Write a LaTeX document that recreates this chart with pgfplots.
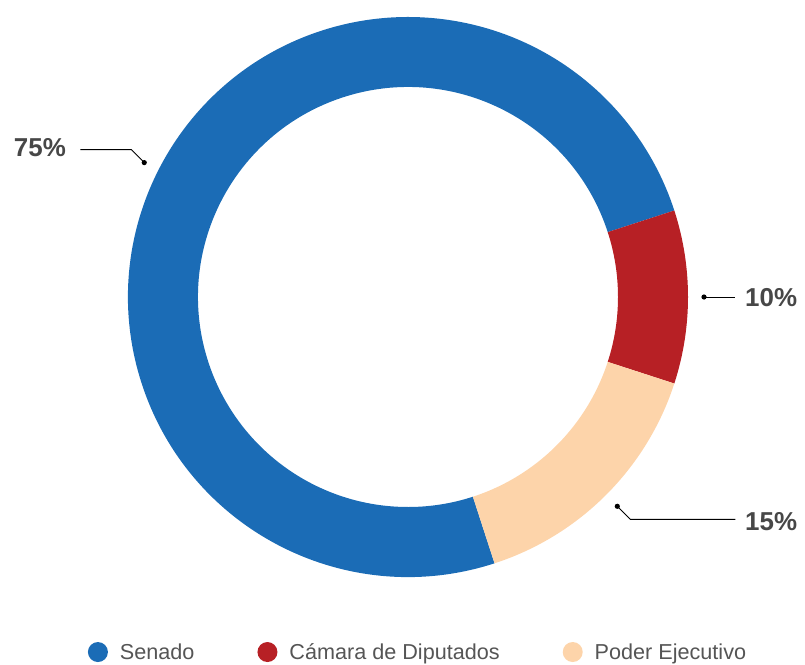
\documentclass[border=0pt]{standalone}
\usepackage{pgfplots}
\pgfplotsset{compat=1.18}
\usepackage{pgfplotstable}
\usepackage{fontspec}
\setmainfont{Liberation Sans}

\definecolor{sen}{HTML}{1B6CB6}
\definecolor{cam}{HTML}{B72025}
\definecolor{pod}{HTML}{FDD4AA}
\definecolor{lbl}{HTML}{474747}
\definecolor{leg}{HTML}{555555}

% shares in percent: Senado, Camara de Diputados, Poder Ejecutivo
\pgfplotstableread{
share
75
10
15
}\shares
\pgfplotstablegetelem{0}{share}\of\shares \let\sSen\pgfplotsretval
\pgfplotstablegetelem{1}{share}\of\shares \let\sCam\pgfplotsretval
\pgfplotstablegetelem{2}{share}\of\shares \let\sPod\pgfplotsretval

% wedges run clockwise from 288 deg
\pgfmathsetmacro\aA{288}
\pgfmathsetmacro\aB{\aA-3.6*\sSen}
\pgfmathsetmacro\aC{\aB-3.6*\sCam}
\pgfmathsetmacro\aD{\aC-3.6*\sPod}
\pgfmathsetmacro\mA{(\aA+\aB)/2}
\pgfmathsetmacro\mB{(\aB+\aC)/2}
\pgfmathsetmacro\mC{(\aC+\aD)/2}

\newcommand\ring[3]{%
  \fill[#3] ([shift={(#1:280bp)}]axis cs:408,297)
    arc[start angle=#1, end angle=#2, radius=280bp]
    -- ([shift={(#2:210bp)}]axis cs:408,297)
    arc[start angle=#2, end angle=#1, radius=210bp] -- cycle;}

\begin{document}
\begin{tikzpicture}
\begin{axis}[
  x=1bp, y=1bp, xmin=0, xmax=805, ymin=0, ymax=665,
  y dir=reverse, hide axis, clip=false,
  legend columns=3,
  legend cell align=left,
  legend image code/.code={\fill[#1, draw=none] (0bp,0bp) circle (10bp);},
  legend style={draw=none, fill=none, at={(0.5193,0.0195)}, anchor=center,
    font=\fontsize{21.7}{26}\selectfont\color{leg},
    /tikz/every odd column/.append style={column sep=10bp},
    /tikz/every even column/.append style={column sep=61bp}},
]
\addlegendimage{fill=sen}\addlegendentry{Senado}
\addlegendimage{fill=cam}\addlegendentry{Cámara de Diputados}
\addlegendimage{fill=pod}\addlegendentry{Poder Ejecutivo}

\ring{\aA}{\aB}{sen}
\ring{\aB}{\aC}{cam}
\ring{\aC}{\aD}{pod}

% leader lines
\draw[black, line width=0.9bp] ([shift={(\mA:296bp)}]axis cs:408,297)
  -- ++(-13bp,13bp) -- ++(-51bp,0bp);
\fill[black] ([shift={(\mA:296bp)}]axis cs:408,297) circle (2.6bp);
\draw[black, line width=0.9bp] ([shift={(\mB:296bp)}]axis cs:408,297)
  -- ++(31bp,0bp);
\fill[black] ([shift={(\mB:296bp)}]axis cs:408,297) circle (2.6bp);
\draw[black, line width=0.9bp] ([shift={(\mC:296bp)}]axis cs:408,297)
  -- ++(13bp,-13bp) -- ++(105bp,0bp);
\fill[black] ([shift={(\mC:296bp)}]axis cs:408,297) circle (2.6bp);

\node[anchor=east, inner sep=0pt, text=lbl, font=\fontsize{26}{30}\selectfont\bfseries]
  at (axis cs:66,148) {\sSen\%};
\node[anchor=west, inner sep=0pt, text=lbl, font=\fontsize{26}{30}\selectfont\bfseries]
  at (axis cs:745,298) {\sCam\%};
\node[anchor=west, inner sep=0pt, text=lbl, font=\fontsize{26}{30}\selectfont\bfseries]
  at (axis cs:745,522) {\sPod\%};
\end{axis}
\pgfresetboundingbox
\path (current axis.south west) rectangle (current axis.north east);
\end{tikzpicture}
\end{document}
